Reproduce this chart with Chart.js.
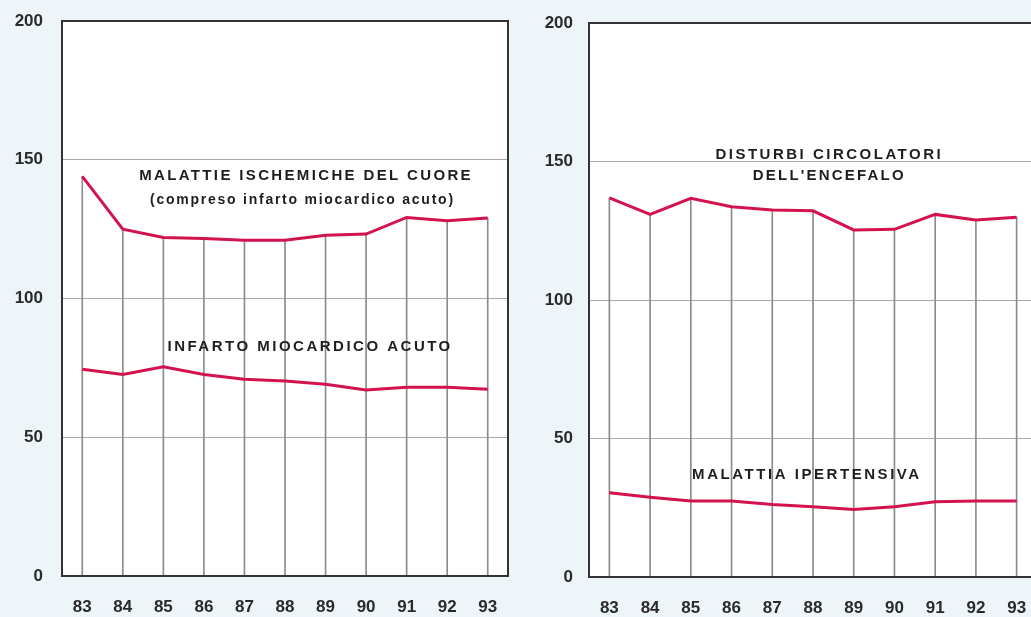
<!DOCTYPE html>
<html>
<head>
<meta charset="utf-8">
<script src="https://cdn.jsdelivr.net/npm/chart.js@4/dist/chart.umd.min.js"></script>
<style>
  html, body { margin: 0; padding: 0; background: #eef5f8; overflow: hidden; }
  body { width: 1031px; height: 617px; position: relative; }
  .box { position: absolute; top: 0; height: 617px; }
  #leftBox { left: 0; width: 516px; }
  #rightBox { left: 516px; width: 530px; }
</style>
</head>
<body>
<div class="box" id="leftBox"><canvas id="leftChart"></canvas></div>
<div class="box" id="rightBox"><canvas id="rightChart"></canvas></div>
<script>
const years = ["83", "84", "85", "86", "87", "88", "89", "90", "91", "92", "93"];
const yTicks = [0, 50, 100, 150, 200];

// left panel
const ischemiche = [144, 125, 122, 121.6, 121, 121, 122.8, 123.2, 129.2, 128, 129];
const infarto = [74.5, 72.6, 75.4, 72.6, 70.9, 70.3, 69.1, 67, 68, 68, 67.3];

// right panel
const encefalo = [136.9, 130.9, 136.7, 133.7, 132.5, 132.2, 125.3, 125.5, 130.9, 128.9, 129.9];
const ipertensiva = [30.4, 28.8, 27.4, 27.4, 26.2, 25.4, 24.4, 25.4, 27.2, 27.4, 27.4];

const leftNotes = [
  { text: "MALATTIE ISCHEMICHE DEL CUORE", x: 5.52, y: 144.2, size: 15, spacing: 2.35 },
  { text: "(compreso infarto miocardico acuto)", x: 5.43, y: 135.6, size: 14, spacing: 1.75 },
  { text: "INFARTO MIOCARDICO ACUTO", x: 5.62, y: 82.5, size: 15, spacing: 2.5 }
];
const rightNotes = [
  { text: "DISTURBI CIRCOLATORI", x: 5.40, y: 152.3, size: 15, spacing: 2.5 },
  { text: "DELL'ENCEFALO", x: 5.40, y: 144.8, size: 15, spacing: 2.2 },
  { text: "MALATTIA IPERTENSIVA", x: 4.85, y: 36.8, size: 15, spacing: 2.55 }
];

const red = "#d3134e";
const fontFamily = "'Liberation Sans', Arial, sans-serif";

const framePlugin = {
  id: "frame",
  beforeDraw(chart) {
    const { ctx, chartArea: a } = chart;
    ctx.save();
    ctx.fillStyle = "#ffffff";
    ctx.fillRect(a.left, a.top, a.right - a.left, a.bottom - a.top);
    ctx.restore();
  },
  afterDatasetsDraw(chart) {
    const { ctx, chartArea: a } = chart;
    ctx.save();
    ctx.strokeStyle = "#333";
    ctx.lineWidth = 2;
    ctx.strokeRect(a.left, a.top, a.right - a.left, a.bottom - a.top);
    ctx.restore();
  }
};

const notesPlugin = {
  id: "notes",
  afterDraw(chart, args, opts) {
    const { ctx } = chart;
    const xs = chart.scales.x, ys = chart.scales.y;
    ctx.save();
    ctx.fillStyle = "#1e1e1e";
    ctx.textAlign = "center";
    ctx.textBaseline = "middle";
    opts.items.forEach(n => {
      const i = Math.floor(n.x);
      const f = n.x - i;
      const px = xs.getPixelForValue(i) + f * (xs.getPixelForValue(i + 1) - xs.getPixelForValue(i));
      ctx.font = `bold ${n.size}px ${fontFamily}`;
      ctx.letterSpacing = n.spacing + "px";
      ctx.fillText(n.text, px, ys.getPixelForValue(n.y));
    });
    ctx.restore();
  }
};

function makeChart(id, upper, lower, notes, pad, yLabelGap) {
  const ctx = document.getElementById(id).getContext("2d");
  return new Chart(ctx, {
    data: {
      labels: years,
      datasets: [
        { type: "line", data: upper, borderColor: red, borderWidth: 3, pointRadius: 0, tension: 0, order: 1 },
        { type: "line", data: lower, borderColor: red, borderWidth: 3, pointRadius: 0, tension: 0, order: 1 },
        { type: "bar", data: upper, backgroundColor: "#8c8c8c", barThickness: 1, order: 2 }
      ]
    },
    options: {
      responsive: true,
      maintainAspectRatio: false,
      animation: false,
      layout: { padding: { top: pad.top, right: pad.right, left: 0, bottom: 0 } },
      plugins: { legend: { display: false }, tooltip: { enabled: false }, notes: { items: notes } },
      scales: {
        x: {
          type: "category",
          offset: true,
          grid: { display: true, drawOnChartArea: false, drawTicks: true, tickLength: 21, tickColor: "rgba(0,0,0,0)" },
          border: { display: false },
          ticks: { color: "#2a2a2a", padding: 0, font: { family: fontFamily, size: 17, weight: "bold" } },
          afterFit: s => { s.height = pad.bottom; }
        },
        y: {
          min: 0,
          max: 200,
          afterBuildTicks: s => { s.ticks = yTicks.map(v => ({ value: v })); },
          grid: {
            drawTicks: true,
            tickLength: yLabelGap,
            tickColor: "rgba(0,0,0,0)",
            color: c => (c.tick.value === 0 || c.tick.value === 200) ? "rgba(0,0,0,0)" : "#a8a8a8",
            lineWidth: 1
          },
          border: { display: false },
          ticks: { color: "#2a2a2a", padding: 0, font: { family: fontFamily, size: 17, weight: "bold" } },
          afterFit: s => { s.width = pad.left; }
        }
      }
    },
    plugins: [framePlugin, notesPlugin]
  });
}

makeChart("leftChart", ischemiche, infarto, leftNotes, { top: 21, right: 8, bottom: 41, left: 62 }, 19);
makeChart("rightChart", encefalo, ipertensiva, rightNotes, { top: 23, right: 9, bottom: 40, left: 73 }, 16);
</script>
</body>
</html>
